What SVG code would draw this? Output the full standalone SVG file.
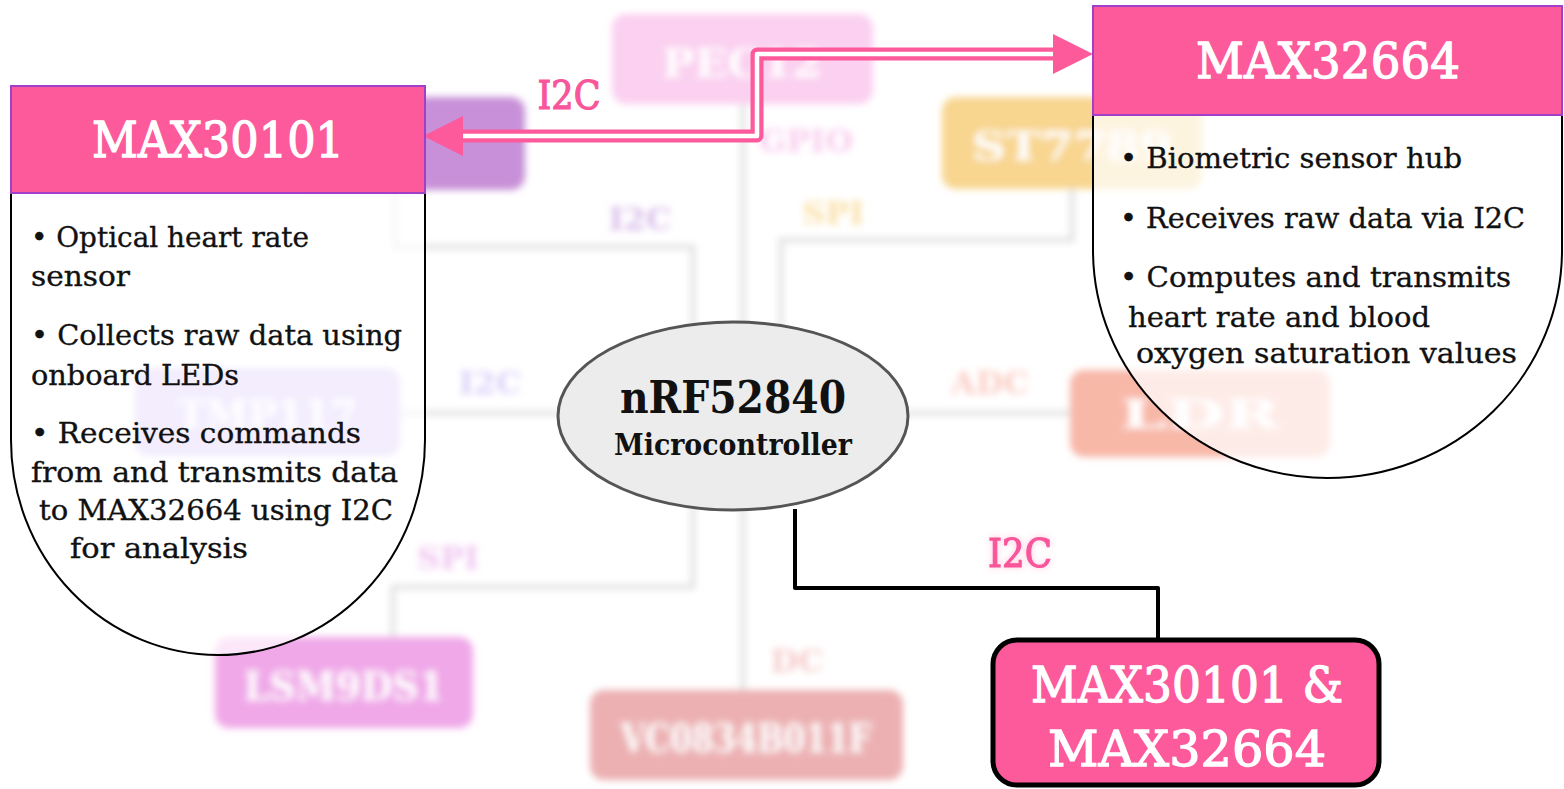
<svg xmlns="http://www.w3.org/2000/svg" width="1564" height="789" viewBox="0 0 1564 789">
<defs>
  <filter id="bgblur" x="-5%" y="-5%" width="110%" height="110%"><feGaussianBlur stdDeviation="3.5"/></filter>
  <filter id="glow" x="-30%" y="-30%" width="160%" height="160%">
    <feGaussianBlur in="SourceAlpha" stdDeviation="3" result="b"/>
    <feFlood flood-color="#fd5a9b" flood-opacity="0.35"/>
    <feComposite in2="b" operator="in" result="g"/>
    <feMerge><feMergeNode in="g"/><feMergeNode in="SourceGraphic"/></feMerge>
  </filter>
  <marker id="ah" markerUnits="userSpaceOnUse" markerWidth="40" markerHeight="40" viewBox="0 0 40 40" refX="0" refY="20" orient="auto-start-reverse">
    <path d="M0,0 L40,20 L0,40 Z" fill="#fd5a9b"/>
  </marker>
  <style>
    .bgline{fill:none;stroke:#e2e2e2;stroke-width:5}
    .bgtxt{font-family:"DejaVu Serif",serif;font-weight:bold;font-size:40px;fill:#ffffff;text-anchor:middle}
    .bglbl{font-family:"DejaVu Serif",serif;font-weight:bold;font-size:32px;text-anchor:middle}
    .hdr{fill:#fd5a9b;stroke:#a040c8;stroke-width:2}
    .hdrtxt{font-family:"DejaVu Serif",serif;font-size:49px;fill:#ffffff;stroke:#ffffff;stroke-width:1.3;text-anchor:middle}
    .body{fill:#ffffff;fill-opacity:0.72;stroke:#000000;stroke-width:2}
    .btxt{font-family:"DejaVu Serif",serif;font-size:28px;fill:#111111;stroke:#111111;stroke-width:0.35}
    .plbl{font-family:"DejaVu Serif",serif;font-size:40px;fill:#f8559a;stroke:#f8559a;stroke-width:1.2;text-anchor:middle}
  </style>
</defs>
<rect width="1564" height="789" fill="#ffffff"/>

<!-- blurred background diagram -->
<g id="background" filter="url(#bgblur)">
  <path class="bgline" d="M743,104 V690"/>
  <path class="bgline" d="M395,190 V247 H693 V587 H393 V637"/>
  <path class="bgline" d="M400,413 H560"/>
  <path class="bgline" d="M905,413 H1070"/>
  <path class="bgline" d="M781,340 V240 H1072 V189"/>
  <rect x="612" y="14" width="261" height="90" rx="14" fill="#fbd0f0"/>
  <text class="bgtxt" x="742" y="77" textLength="160" lengthAdjust="spacingAndGlyphs">PEC12</text>
  <rect x="300" y="97" width="225" height="93" rx="14" fill="#c890d8"/>
  <rect x="942" y="97" width="260" height="92" rx="14" fill="#f8d690"/>
  <text class="bgtxt" x="1072" y="160" textLength="200" lengthAdjust="spacingAndGlyphs">ST7789</text>
  <rect x="135" y="368" width="265" height="88" rx="14" fill="#d2bdf8"/>
  <text class="bgtxt" x="267" y="428" textLength="180" lengthAdjust="spacingAndGlyphs">TMP117</text>
  <rect x="1070" y="370" width="260" height="87" rx="14" fill="#f8b8a8"/>
  <text class="bgtxt" x="1200" y="428" textLength="160" lengthAdjust="spacingAndGlyphs">LDR</text>
  <rect x="215" y="637" width="258" height="91" rx="14" fill="#f0a8e8"/>
  <text class="bgtxt" x="344" y="700" textLength="200" lengthAdjust="spacingAndGlyphs">LSM9DS1</text>
  <rect x="590" y="690" width="313" height="90" rx="14" fill="#ecb0b2"/>
  <text class="bgtxt" x="746" y="752" textLength="250" lengthAdjust="spacingAndGlyphs">VC0834B011F</text>
  <text class="bglbl" x="806" y="152" fill="#f9cdee">GPIO</text>
  <text class="bglbl" x="640" y="230" fill="#d9bdea">I2C</text>
  <text class="bglbl" x="833" y="224" fill="#fae0a8">SPI</text>
  <text class="bglbl" x="490" y="394" fill="#dcd0fa">I2C</text>
  <text class="bglbl" x="990" y="394" fill="#fbcdc4">ADC</text>
  <text class="bglbl" x="448" y="569" fill="#f0c6f0">SPI</text>
  <text class="bglbl" x="797" y="672" fill="#f6cccc">DC</text>
</g>

<!-- connectors -->
<g id="connectors">
  <path d="M463,136 H757 V54 H1053" fill="none" stroke="#fd5a9b" stroke-width="13" stroke-linejoin="round" marker-start="url(#ah)" marker-end="url(#ah)"/>
  <path d="M463,136 H757 V54 H1053" fill="none" stroke="#ffffff" stroke-width="4.5" stroke-linejoin="round"/>
  <text class="plbl" x="569" y="109" textLength="63" lengthAdjust="spacingAndGlyphs">I2C</text>
  <path d="M795,509 V588 H1158 V640" fill="none" stroke="#000000" stroke-width="4" stroke-linejoin="round"/>
  <text class="plbl" x="1020" y="567" textLength="64" lengthAdjust="spacingAndGlyphs" filter="url(#glow)">I2C</text>
</g>

<!-- MAX30101 -->
<g id="max30101">
  <path class="body" d="M11,193 V440 A207,215 0 0 0 425,440 V193"/>
  <rect class="hdr" x="11" y="86" width="414" height="107"/>
  <text class="hdrtxt" x="218" y="157" textLength="252" lengthAdjust="spacingAndGlyphs">MAX30101</text>
  <text class="btxt" x="31" y="247" textLength="278" lengthAdjust="spacingAndGlyphs">• Optical heart rate</text>
  <text class="btxt" x="31" y="286" textLength="99" lengthAdjust="spacingAndGlyphs">sensor</text>
  <text class="btxt" x="31" y="345" textLength="371" lengthAdjust="spacingAndGlyphs">• Collects raw data using</text>
  <text class="btxt" x="31" y="385" textLength="208" lengthAdjust="spacingAndGlyphs">onboard LEDs</text>
  <text class="btxt" x="31" y="443" textLength="330" lengthAdjust="spacingAndGlyphs">• Receives commands</text>
  <text class="btxt" x="31" y="482" textLength="367" lengthAdjust="spacingAndGlyphs">from and transmits data</text>
  <text class="btxt" x="39" y="520" textLength="354" lengthAdjust="spacingAndGlyphs">to MAX32664 using I2C</text>
  <text class="btxt" x="70" y="558" textLength="178" lengthAdjust="spacingAndGlyphs">for analysis</text>
</g>

<!-- MAX32664 -->
<g id="max32664">
  <path class="body" d="M1093,115 V250 A234.5,228 0 0 0 1562,250 V115"/>
  <rect class="hdr" x="1093" y="6" width="469" height="109"/>
  <text class="hdrtxt" x="1328" y="78" textLength="264" lengthAdjust="spacingAndGlyphs">MAX32664</text>
  <text class="btxt" x="1120" y="168" textLength="342" lengthAdjust="spacingAndGlyphs">• Biometric sensor hub</text>
  <text class="btxt" x="1120" y="228" textLength="405" lengthAdjust="spacingAndGlyphs">• Receives raw data via I2C</text>
  <text class="btxt" x="1120" y="287" textLength="391" lengthAdjust="spacingAndGlyphs">• Computes and transmits</text>
  <text class="btxt" x="1128" y="327" textLength="302" lengthAdjust="spacingAndGlyphs">heart rate and blood</text>
  <text class="btxt" x="1136" y="363" textLength="381" lengthAdjust="spacingAndGlyphs">oxygen saturation values</text>
</g>

<!-- nRF52840 -->
<g id="nrf52840">
  <ellipse cx="733" cy="416" rx="175" ry="94" fill="#ececec" stroke="#555555" stroke-width="3"/>
  <text x="733" y="413" font-family="DejaVu Serif, serif" font-weight="bold" font-size="45" fill="#111111" text-anchor="middle" textLength="226" lengthAdjust="spacingAndGlyphs">nRF52840</text>
  <text x="733" y="455" font-family="DejaVu Serif, serif" font-weight="bold" font-size="29" fill="#111111" text-anchor="middle" textLength="238" lengthAdjust="spacingAndGlyphs">Microcontroller</text>
</g>

<!-- MAX30101 & MAX32664 -->
<g id="combo">
  <rect x="993" y="640" width="386" height="145" rx="24" fill="#fd5a9b" stroke="#000000" stroke-width="5"/>
  <text class="hdrtxt" x="1187" y="702" textLength="312" lengthAdjust="spacingAndGlyphs">MAX30101 &amp;</text>
  <text class="hdrtxt" x="1187" y="766" textLength="278" lengthAdjust="spacingAndGlyphs">MAX32664</text>
</g>
</svg>
